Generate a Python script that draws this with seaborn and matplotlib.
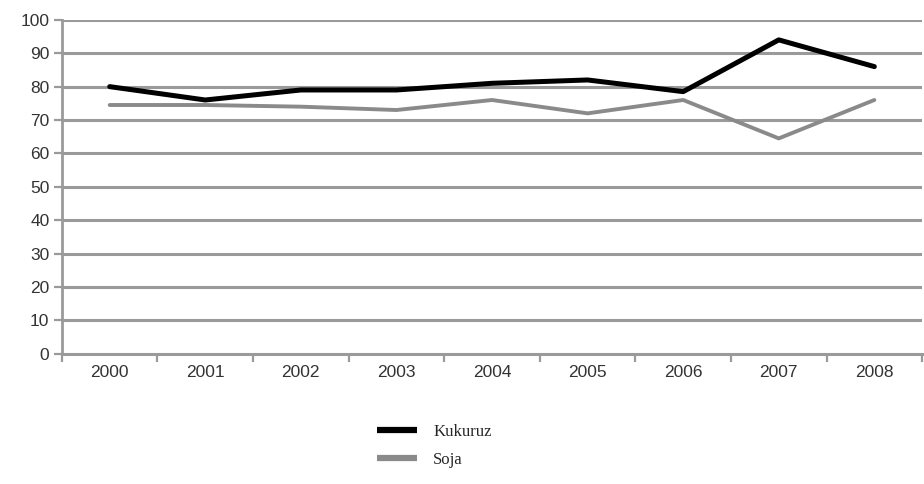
import pandas as pd
import matplotlib
matplotlib.use("Agg")
import matplotlib.pyplot as plt
from matplotlib.ticker import FixedLocator
import seaborn as sns

years = ["2000", "2001", "2002", "2003", "2004", "2005", "2006", "2007", "2008"]
kukuruz = [80, 76, 79, 79, 81, 82, 78.5, 94, 86]
soja = [74.5, 74.5, 74, 73, 76, 72, 76, 64.5, 76]

df = pd.DataFrame({
    "year": years * 2,
    "value": kukuruz + soja,
    "series": ["Kukuruz"] * len(years) + ["Soja"] * len(years),
})
df["pos"] = df["year"].map({y: i for i, y in enumerate(years)})

sns.set_style("white")
plt.rcParams["font.family"] = ["Liberation Sans", "DejaVu Sans"]

fig = plt.figure(figsize=(9.24, 4.84), dpi=100)
ax = fig.add_axes([0.067, 0.269, 0.931, 0.69])

grid_col = "#9a9a9a"
for v in range(10, 101, 10):
    ax.axhline(v, color=grid_col, lw=2.2, zorder=1)

sns.lineplot(data=df, x="pos", y="value", hue="series",
             palette={"Kukuruz": "#000000", "Soja": "#8a8a8a"},
             ax=ax, legend=False, zorder=3)
ax.lines[-2].set_linewidth(3.6)
ax.lines[-1].set_linewidth(2.8)

ax.set_xlim(-0.5, len(years) - 0.5)
ax.set_ylim(0, 100)
ax.set_yticks(range(0, 101, 10))
ax.set_xticks(range(len(years)))
ax.set_xticklabels(years)
ax.xaxis.set_minor_locator(FixedLocator([i + 0.5 for i in range(-1, len(years))]))
ax.tick_params(axis="x", which="major", bottom=False, length=0, pad=8,
               labelsize=12.5, labelcolor="#333333")
ax.tick_params(axis="x", which="minor", bottom=True, length=6, width=1.6,
               color=grid_col, direction="out")
ax.tick_params(axis="y", left=True, length=6, width=1.6, color=grid_col, direction="out",
               labelsize=12.5, labelcolor="#333333", pad=3)
ax.set_xlabel("")
ax.set_ylabel("")

for side in ["top", "right"]:
    ax.spines[side].set_visible(False)
ax.spines["left"].set_color(grid_col)
ax.spines["left"].set_linewidth(2)
ax.spines["bottom"].set_color(grid_col)
ax.spines["bottom"].set_linewidth(2.2)

handles = [plt.Line2D([], [], color="#000000", lw=4.5, solid_capstyle="butt"),
           plt.Line2D([], [], color="#8a8a8a", lw=4.5, solid_capstyle="butt")]
fig.legend(handles, ["Kukuruz", "Soja"], loc="center", bbox_to_anchor=(0.47, 0.079),
           frameon=False, prop={"family": "Liberation Serif", "size": 12},
           handlelength=2.4, labelspacing=0.75, handletextpad=1.0)

fig.savefig("out.png", dpi=100)
